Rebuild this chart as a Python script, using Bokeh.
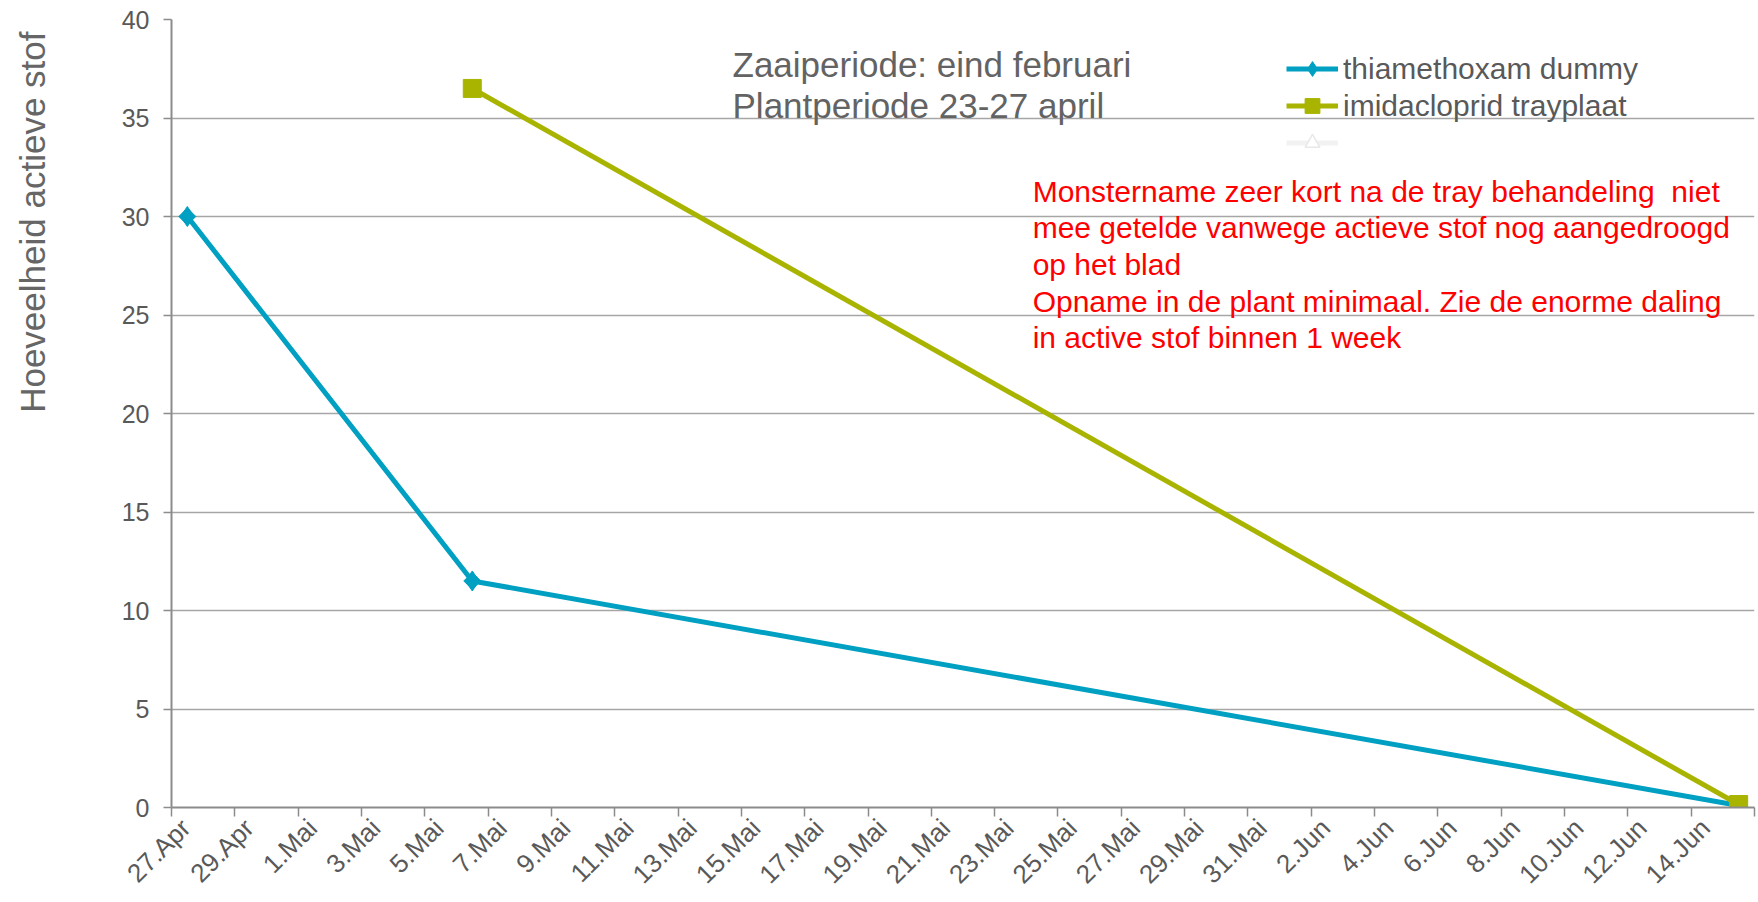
import numpy as np
import pandas as pd
from bokeh.plotting import figure
from bokeh.models import (Range1d, FixedTicker, Legend, LegendItem, Label,
                          LinearAxis, Title)
from bokeh.embed import file_html
from bokeh.resources import INLINE

# ---------------- data ----------------
start_date = "2013-04-27"
thia_dates = ["2013-04-27", "2013-05-06", "2013-06-15"]
thia_values = [30.0, 11.5, 0.1]
imid_dates = ["2013-05-06", "2013-06-15"]
imid_values = [36.5, 0.15]

tick_labels = ["27.Apr", "29.Apr", "1.Mai", "3.Mai", "5.Mai", "7.Mai", "9.Mai",
               "11.Mai", "13.Mai", "15.Mai", "17.Mai", "19.Mai", "21.Mai",
               "23.Mai", "25.Mai", "27.Mai", "29.Mai", "31.Mai", "2.Jun",
               "4.Jun", "6.Jun", "8.Jun", "10.Jun", "12.Jun", "14.Jun", ""]

series_names = ["thiamethoxam dummy", "imidacloprid trayplaat"]
y_title = "Hoeveelheid actieve stof"
note_lines = ["Zaaiperiode: eind februari", "Plantperiode 23-27 april"]
red_lines = ["Monstername zeer kort na de tray behandeling \u00a0niet",
             "mee getelde vanwege actieve stof nog aangedroogd",
             "op het blad",
             "Opname in de plant minimaal. Zie de enorme daling",
             "in active stof binnen 1 week"]

# ---------------- helpers ----------------
t0 = pd.Timestamp(start_date)
def day_pos(ds):
    # points sit in the middle of their day slot (Excel date axis)
    return [(pd.Timestamp(d) - t0).days + 0.5 for d in ds]

thia_x = day_pos(thia_dates)
imid_x = day_pos(imid_dates)
tick_pos = [2 * i for i in range(len(tick_labels))]
LABEL_SHIFT = 0.45  # Excel draws rotated labels slightly right of the tick
label_pos = [t + LABEL_SHIFT for t in tick_pos]

TEAL = "#00a0c2"
OLIVE = "#a8b400"
GRAY_TXT = "#595959"
AX_GRAY = "#8c8c8c"
FONT = "Liberation Sans"

p = figure(width=1758, height=902, output_backend="svg", toolbar_location=None,
           x_range=Range1d(0, tick_pos[-1]), y_range=Range1d(0, 40),
           min_border_left=171, min_border_right=4, min_border_top=19,
           min_border_bottom=94)
p.outline_line_color = None
p.background_fill_color = "white"
p.border_fill_color = "white"

# x axis 1: line + tick marks only (labels blank)
p.xaxis.ticker = FixedTicker(ticks=tick_pos)
p.xaxis.major_label_overrides = {t: "" for t in tick_pos}
p.xaxis.major_label_text_font_size = "1px"
p.xaxis.major_label_standoff = 0
# x axis 2: rotated labels only
xlab = LinearAxis(ticker=FixedTicker(ticks=label_pos),
                  major_label_overrides={t: l for t, l in zip(label_pos, tick_labels)},
                  major_label_orientation=np.pi / 4,
                  axis_line_color=None, major_tick_line_color=None,
                  minor_tick_line_color=None, major_tick_in=0, major_tick_out=0,
                  major_label_standoff=7,
                  major_label_text_font=FONT, major_label_text_font_size="26px",
                  major_label_text_color=GRAY_TXT)
p.add_layout(xlab, "below")

p.yaxis.ticker = FixedTicker(ticks=list(range(0, 41, 5)))
for ax in (p.xaxis[0], p.yaxis[0]):
    ax.axis_line_color = AX_GRAY
    ax.axis_line_width = 2
    ax.major_tick_line_color = AX_GRAY
    ax.major_tick_line_width = 1.5
    ax.major_tick_in = 0
    ax.minor_tick_line_color = None
    ax.major_label_text_color = GRAY_TXT
    ax.major_label_text_font = FONT
p.xaxis[0].major_tick_out = 9
p.yaxis.major_tick_out = 8
p.yaxis.major_label_text_font_size = "25px"
p.yaxis.major_label_standoff = 14

p.xgrid.grid_line_color = None
p.ygrid.grid_line_color = "#a6a6a6"
p.ygrid.grid_line_width = 1.3
p.ygrid.ticker = FixedTicker(ticks=list(range(5, 41, 5)))

# blank spacer axis between the value axis and its title
spacer = LinearAxis(ticker=FixedTicker(ticks=[]), axis_line_color=None,
                    major_tick_line_color=None, minor_tick_line_color=None,
                    major_tick_in=0, major_tick_out=0, major_label_standoff=0,
                    axis_label=" ", axis_label_text_font_size="10px",
                    axis_label_standoff=45)
p.add_layout(spacer, "left")
# y title placed like the original (upper part of the axis)
p.add_layout(Title(text=y_title, align="right", offset=12, standoff=16,
                   text_font=FONT, text_font_size="35px", text_color="#666666",
                   text_font_style="normal"), "left")

# series
l1 = p.line(thia_x, thia_values, line_color=TEAL, line_width=5)
m1 = p.scatter(thia_x, thia_values, marker="square", angle=np.pi / 4, size=12,
               fill_color=TEAL, line_color=TEAL)
m1d = p.scatter(thia_x, thia_values, marker="diamond", size=20,
                fill_color=TEAL, line_color=TEAL)
l2 = p.line(imid_x, imid_values, line_color=OLIVE, line_width=5)
m2 = p.scatter(imid_x, imid_values, marker="square", size=18,
               fill_color=OLIVE, line_color=OLIVE)
# faint third legend entry (no visible data)
l3 = p.line([np.nan], [np.nan], line_color="#f2f2f2", line_width=5)
m3 = p.scatter([np.nan], [np.nan], marker="triangle", size=16, fill_color="white",
               line_color="#e8e8e8", line_width=1.5)

legend = Legend(items=[LegendItem(label=series_names[0], renderers=[l1, m1d]),
                       LegendItem(label=series_names[1], renderers=[l2, m2]),
                       LegendItem(label=" ", renderers=[l3, m3])],
                location=(1115, 646), orientation="vertical")
legend.label_text_font = FONT
legend.label_text_font_size = "30px"
legend.label_text_color = GRAY_TXT
legend.glyph_width = 52
legend.glyph_height = 37
legend.label_height = 37
legend.label_standoff = 5
legend.spacing = 0
legend.padding = 0
legend.margin = 0
legend.border_line_color = None
legend.background_fill_alpha = 0
p.add_layout(legend, "center")

# annotations (data coordinates)
for txt, yv in zip(note_lines, [37.72, 35.65]):
    p.add_layout(Label(x=17.72, y=yv, text=txt, text_font=FONT,
                       text_font_size="35px", text_color="#636363",
                       text_baseline="alphabetic", text_align="left"))
for i, txt in enumerate(red_lines):
    p.add_layout(Label(x=27.2, y=31.28 - i * 1.86, text=txt, text_font=FONT,
                       text_font_size="30px", text_color="#ff0000",
                       text_baseline="alphabetic", text_align="left"))

open("out.html", "w").write(file_html(p, INLINE))
